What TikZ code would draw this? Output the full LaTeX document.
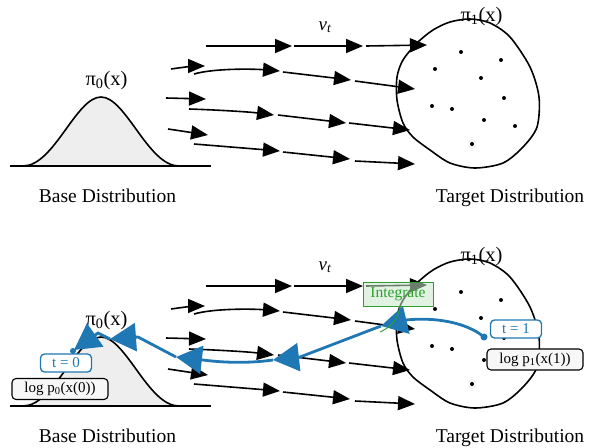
\documentclass[tikz,border=0pt]{standalone}
\usepackage{fontspec}
\setmainfont{Liberation Serif}
\usetikzlibrary{arrows.meta}
\definecolor{mplblue}{HTML}{1F77B4}
\definecolor{mplgreen}{HTML}{2CA02C}
\definecolor{bellgray}{HTML}{EEEEEE}
\definecolor{boxgray}{HTML}{F7F7F7}
\tikzset{
  flowarrow/.style={line width=1.6pt,-{Triangle[length=17pt,width=14pt]}},
  curveline/.style={line width=1.6pt},
  distlabel/.style={anchor=base,inner sep=0pt,font=\fontsize{19.5}{23}\selectfont},
  pilabel/.style={anchor=base,inner sep=0pt,font=\fontsize{20.5}{24}\selectfont},
  backpath/.style={mplblue,line width=2.8pt,-{Triangle[length=26pt,width=28pt]}},
  timebox/.style={draw=mplblue,line width=1.3pt,rounded corners=4pt,fill=white,text=mplblue,minimum width=51pt,minimum height=18pt,inner sep=0pt,font=\fontsize{15}{18}\selectfont},
  logbox/.style={draw=black,line width=1.1pt,rounded corners=4pt,fill=boxgray,minimum width=96pt,minimum height=21pt,inner sep=0pt,font=\fontsize{15}{18}\selectfont},
  integbox/.style={draw=mplgreen,line width=1pt,fill=mplgreen!25,fill opacity=0.55,text opacity=1,text=mplgreen,minimum width=70pt,minimum height=24pt,inner sep=0pt,font=\fontsize{15.5}{18}\selectfont},
  integline/.style={mplgreen,line width=0.9pt},
}
\newcommand\flowpanel[1]{%
  \fill[bellgray] (23,166) .. controls (54,166) and (76,97) .. (101,97) .. controls (126,97) and (148,166) .. (179,166) -- cycle;
  \draw[curveline] (23,166) .. controls (54,166) and (76,97) .. (101,97) .. controls (126,97) and (148,166) .. (179,166);
  \draw[curveline] (10,166) -- (211,166);
  \node[pilabel] (pizero#1) at (106.5,85) {π\textsubscript{0}(x)};
  \node[distlabel] (base#1) at (107.5,202) {Base Distribution};
  \draw[curveline] plot[smooth cycle] coordinates {(397,77) (403,60) (417,43) (433,30) (450,22) (470,19) (490,23) (510,37) (530,67) (539,97) (537,127) (523,147) (503,163) (475,168) (450,163) (430,150) (413,137) (403,123) (397,100)};
  \foreach \p in {(461,52),(501,60),(435,69),(481,78),(504,98),(432,106),(452,109),(484,120),(515,126),(472,144)}
    \fill \p circle (2pt);
  \node[pilabel] (pione#1) at (481.5,21) {π\textsubscript{1}(x)};
  \node[distlabel] (target#1) at (510,202) {Target Distribution};
  \node[anchor=base,inner sep=0pt,font=\fontsize{19}{23}\selectfont\itshape] (vt#1) at (325,30) {v\textsubscript{t}};
  \draw[flowarrow] (206,46) -- (292,46);
  \draw[flowarrow] (294,46) -- (363,46);
  \draw[flowarrow] (366,46) -- (427,45);
  \draw[flowarrow] (171,69) .. controls (185,67) and (195,66) .. (205,66);
  \draw[flowarrow] (194,74) .. controls (215,68) and (255,69) .. (280,71);
  \draw[flowarrow] (283,72) -- (351,80);
  \draw[flowarrow] (355,81) -- (415,89);
  \draw[flowarrow] (166,98) -- (206,99);
  \draw[flowarrow] (189,109) .. controls (220,110) and (250,112) .. (274,115);
  \draw[flowarrow] (278,115) -- (346,123);
  \draw[flowarrow] (349,123) -- (410,130);
  \draw[flowarrow] (168,129) -- (208,135);
  \draw[flowarrow] (194,144) -- (280,151);
  \draw[flowarrow] (283,152) -- (350,159);
  \draw[flowarrow] (355,161) -- (415,164);
}
\begin{document}
\begin{tikzpicture}[x=1pt,y=-1pt]
\useasboundingbox (0,0) rectangle (593,447);
\flowpanel{a}
\begin{scope}[yshift=-240pt]
\flowpanel{b}
\end{scope}
% reverse-time trajectory
\coordinate (tone) at (484,337);
\coordinate (bend) at (406,320);
\coordinate (h1) at (381,326);
\coordinate (k2) at (300,357);
\coordinate (h2) at (273,360);
\coordinate (k3) at (203,360);
\coordinate (h3) at (176,357);
\coordinate (k4) at (138,337);
\coordinate (h4) at (110,339);
\coordinate (k5) at (98,333);
\coordinate (h5) at (74,350);
\coordinate (tzero) at (73,351);
\coordinate (gend) at (380,332);
\draw[backpath] (tone) .. controls (466,322) and (434,317) .. (bend) -- (h1);
\draw[backpath] (h1) -- (k2) -- (h2);
\draw[backpath] (h2) .. controls (245,364) and (218,362) .. (k3) -- (h3);
\draw[backpath] (h3) -- (k4) -- (h4);
\draw[backpath] (h4) -- (k5) -- (h5);
\fill[mplblue] (tone) circle (3.5pt);
\fill[mplblue] (tzero) circle (3pt);
\node[logbox] (logzero) at (60,389) {log p\textsubscript{0}(x(0))};
\node[timebox] (tzbox) at (66,363) {t = 0};
\node[timebox] (tobox) at (516,329) {t = 1};
\node[logbox] (logone) at (535,359.5) {log p\textsubscript{1}(x(1))};
\node[integbox] (integ) at (398,294) {Integrate};
\draw[integline] ([xshift=2pt]integ.south) .. controls (398,320) and (391,327) .. (gend);
\end{tikzpicture}
\end{document}
